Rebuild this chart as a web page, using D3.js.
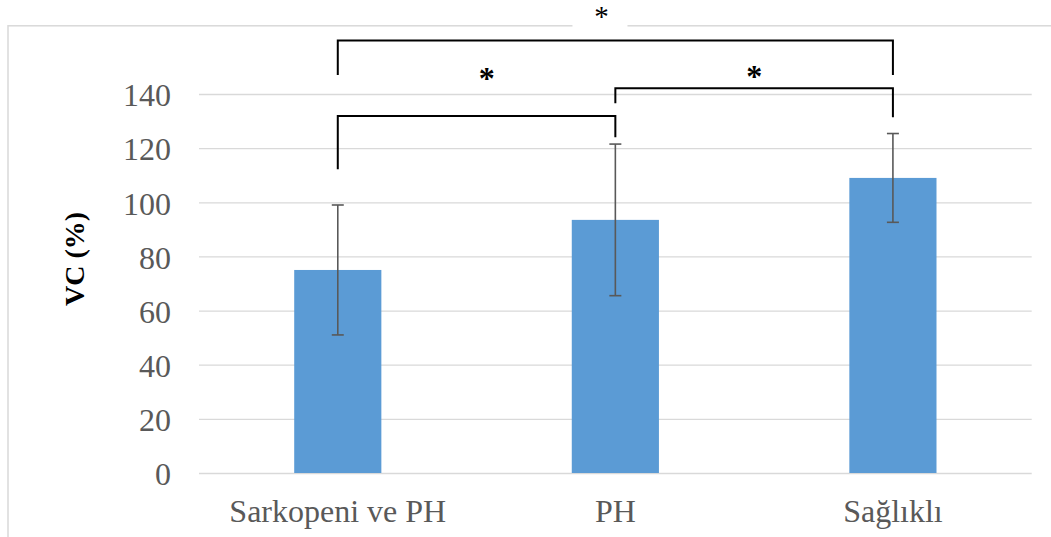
<!DOCTYPE html>
<html>
<head>
<meta charset="utf-8">
<script src="https://cdn.jsdelivr.net/npm/d3@7"></script>
<style>
  body { margin: 0; background: #fff; }
  svg { display: block; }
</style>
</head>
<body>
<div id="chartDiv"></div>
<script>
// data
var categories = ["Sarkopeni ve PH", "PH", "Sağlıklı"];
var means = [75, 93.5, 109];
var errors = [24, 28, 16.4];
var yTicks = [0, 20, 40, 60, 80, 100, 120, 140];

// significance brackets: from / to category index, level of bar, drop on each side (in % units)
var bracketFrom = [0, 1, 0];
var bracketTo = [1, 2, 2];
var bracketTop = [131.9, 142.1, 159.8];
var bracketLeftEnd = [112.2, 136.6, 147];
var bracketRightEnd = [124, 131.4, 147];
var starPos = [0.537, 0.5, 0.475];
var starLevel = [147.7, 148.6, 170.5];
var starLabels = ["*", "*", "*"];
var starBold = [true, true, false];
var starSize = [32, 32, 29];

var W = 1051, H = 537;
var margin = {top: 94, right: 19.3, bottom: 64, left: 199};

var svg = d3.select("#chartDiv").append("svg")
    .attr("width", W)
    .attr("height", H);

var x_scale = d3.scaleBand()
    .domain(categories)
    .range([margin.left, W - margin.right])
    .paddingInner(0.686)
    .paddingOuter(0.343);

var y_scale = d3.scaleLinear()
    .domain([0, 140])
    .range([H - margin.bottom, margin.top]);

var cx = function(i) { return x_scale(categories[i]) + x_scale.bandwidth() / 2; };

// chart frame
svg.append("rect")
    .attr("x", 8).attr("y", 25.8)
    .attr("width", W + 20).attr("height", H + 20)
    .attr("fill", "none")
    .attr("stroke", "#d9d9d9")
    .attr("stroke-width", 1.5);

// gridlines and y tick labels
var yAxis = d3.axisLeft(y_scale)
    .tickValues(yTicks)
    .tickSize(-(W - margin.right - margin.left))
    .tickPadding(28);

var yGroup = svg.append("g")
    .attr("transform", "translate(" + margin.left + ",0)")
    .call(yAxis);
yGroup.select(".domain").remove();
yGroup.selectAll(".tick line").attr("stroke", "#d9d9d9").attr("stroke-width", 1.3);
yGroup.selectAll(".tick text")
    .attr("fill", "#595959")
    .attr("font-family", "'Liberation Serif', 'Times New Roman', serif")
    .attr("font-size", 32)
    .attr("dy", "0.37em");

// x labels
var xAxis = d3.axisBottom(x_scale).tickSize(0).tickPadding(0);
var xGroup = svg.append("g")
    .attr("transform", "translate(0," + y_scale(0) + ")")
    .call(xAxis);
xGroup.select(".domain").remove();
xGroup.selectAll(".tick text")
    .attr("fill", "#595959")
    .attr("font-family", "'Liberation Serif', 'Times New Roman', serif")
    .attr("font-size", 32)
    .attr("dy", null)
    .attr("y", 48.5);

// y title
svg.append("text")
    .attr("transform", "translate(84," + 259 + ") rotate(-90)")
    .attr("text-anchor", "middle")
    .attr("font-family", "'Liberation Serif', 'Times New Roman', serif")
    .attr("font-weight", "bold")
    .attr("font-size", 28)
    .attr("fill", "#000")
    .text("VC (%)");

// bars
svg.append("g").selectAll("rect")
    .data(means).enter()
    .append("rect")
    .attr("x", function(d, i) { return x_scale(categories[i]); })
    .attr("y", function(d) { return y_scale(d); })
    .attr("width", x_scale.bandwidth())
    .attr("height", function(d) { return y_scale(0) - y_scale(d); })
    .attr("fill", "#5b9bd5");

// error bars
var eb = svg.append("g").attr("stroke", "#595959").attr("stroke-width", 1.6);
means.forEach(function(m, i) {
  var c = cx(i), lo = y_scale(m - errors[i]), hi = y_scale(m + errors[i]);
  eb.append("line").attr("x1", c).attr("x2", c).attr("y1", lo).attr("y2", hi);
  eb.append("line").attr("x1", c - 6).attr("x2", c + 6).attr("y1", lo).attr("y2", lo);
  eb.append("line").attr("x1", c - 6).attr("x2", c + 6).attr("y1", hi).attr("y2", hi);
});

// white boxes behind the stars (they cut the gridline and the frame)
var starBoxW = [44, 41, 55];
var starG = svg.append("g");
starLabels.forEach(function(s, i) {
  var sx = cx(bracketFrom[i]) + starPos[i] * (cx(bracketTo[i]) - cx(bracketFrom[i]));
  var sy = y_scale(starLevel[i]);
  var bx = i === 0 ? sx - 30 : sx - starBoxW[i] / 2 - (i === 2 ? 1.5 : 6);
  starG.append("rect")
      .attr("x", bx).attr("y", sy - 11)
      .attr("width", starBoxW[i]).attr("height", 30)
      .attr("fill", "#fff");
});

// brackets
var br = svg.append("g").attr("fill", "none").attr("stroke", "#000").attr("stroke-width", 2);
bracketFrom.forEach(function(f, i) {
  var x1 = cx(f), x2 = cx(bracketTo[i]);
  br.append("path")
    .attr("d", "M" + x1 + "," + y_scale(bracketLeftEnd[i]) +
               "V" + y_scale(bracketTop[i]) +
               "H" + x2 +
               "V" + y_scale(bracketRightEnd[i]));
});

// stars
starLabels.forEach(function(s, i) {
  var sx = cx(bracketFrom[i]) + starPos[i] * (cx(bracketTo[i]) - cx(bracketFrom[i]));
  var sy = y_scale(starLevel[i]);
  svg.append("text")
      .attr("x", sx).attr("y", sy + starSize[i] * 0.5)
      .attr("text-anchor", "middle")
      .attr("font-family", "'Liberation Serif', 'Times New Roman', serif")
      .attr("font-weight", starBold[i] ? "bold" : "normal")
      .attr("font-size", starSize[i])
      .attr("fill", "#000")
      .text(s);
});
</script>
</body>
</html>
